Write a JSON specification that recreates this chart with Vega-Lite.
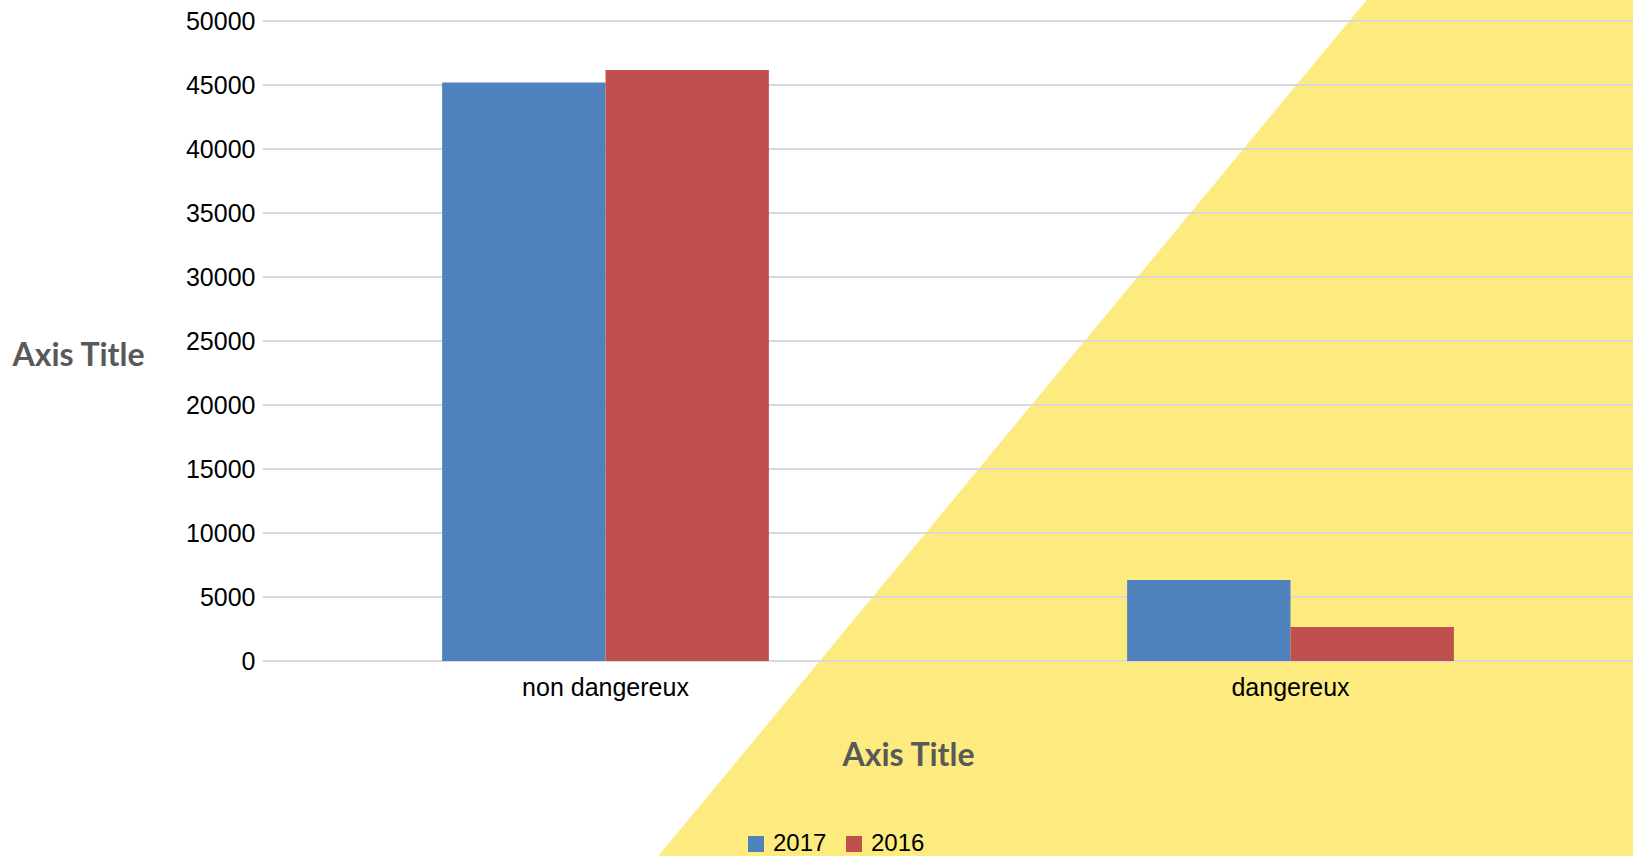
{
  "$schema": "https://vega.github.io/schema/vega-lite/v6.json",
  "width": 1370,
  "height": 640,
  "autosize": {"type": "none"},
  "padding": {"left": 263, "top": 21, "right": 0, "bottom": 195},
  "background": "white",
  "config": {"view": {"stroke": null}, "font": "Liberation Sans"},
  "datasets": {
    "waste": [
      {"categorie": "non dangereux", "annee": "2017", "tonnes": 45200},
      {"categorie": "non dangereux", "annee": "2016", "tonnes": 46180},
      {"categorie": "dangereux", "annee": "2017", "tonnes": 6320},
      {"categorie": "dangereux", "annee": "2016", "tonnes": 2650}
    ],
    "band": [
      {"bx": 25.17, "by": -20000, "by2": -20000},
      {"bx": 83.16, "by": 55000, "by2": -20000},
      {"bx": 120, "by": 55000, "by2": -20000}
    ],
    "grid": [
      {"tonnes": 0}, {"tonnes": 5000}, {"tonnes": 10000}, {"tonnes": 15000},
      {"tonnes": 20000}, {"tonnes": 25000}, {"tonnes": 30000}, {"tonnes": 35000},
      {"tonnes": 40000}, {"tonnes": 45000}, {"tonnes": 50000}
    ]
  },
  "layer": [
    {
      "data": {"name": "band"},
      "mark": {"type": "area", "color": "#FDEB80", "clip": false},
      "encoding": {
        "x": {"field": "bx", "type": "quantitative", "scale": {"domain": [0, 100], "nice": false, "zero": false}, "axis": null},
        "y": {"field": "by", "type": "quantitative", "title": "Axis Title", "scale": {"domain": [0, 50000], "nice": false}},
        "y2": {"field": "by2"}
      }
    },
    {
      "data": {"name": "grid"},
      "mark": {"type": "rule", "color": "#D9D9D9", "strokeWidth": 2},
      "encoding": {
        "y": {"field": "tonnes", "type": "quantitative", "title": "Axis Title", "scale": {"domain": [0, 50000], "nice": false}}
      }
    },
    {
      "data": {"name": "waste"},
      "mark": {"type": "bar"},
      "encoding": {
        "x": {
          "field": "categorie", "type": "nominal", "sort": ["non dangereux", "dangereux"],
          "title": "Axis Title",
          "scale": {"paddingInner": 0.523, "paddingOuter": 0.2615},
          "axis": {
            "domain": false, "ticks": false, "zindex": 1, "labelAngle": 0,
            "labelFont": "Liberation Sans", "labelFontSize": 25, "labelColor": "#000000",
            "labelBaseline": "alphabetic", "labelPadding": 34,
            "titleX": 645, "titleY": 104, "titleBaseline": "alphabetic", "titleAlign": "center",
            "titleFont": "Lato", "titleFontSize": 32, "titleFontWeight": "bold", "titleColor": "#595959"
          }
        },
        "xOffset": {"field": "annee", "type": "nominal", "sort": ["2017", "2016"], "scale": {"paddingInner": 0, "paddingOuter": 0}},
        "y": {
          "field": "tonnes", "type": "quantitative", "title": "Axis Title",
          "scale": {"domain": [0, 50000], "nice": false},
          "axis": {
            "values": [0, 5000, 10000, 15000, 20000, 25000, 30000, 35000, 40000, 45000, 50000],
            "format": "d", "grid": false, "domain": false, "ticks": false, "zindex": 1,
            "labelFont": "Liberation Sans", "labelFontSize": 25, "labelColor": "#000000", "labelPadding": 8,
            "titleAngle": 0, "titleX": -185, "titleY": 344, "titleAlign": "center", "titleBaseline": "alphabetic",
            "titleFont": "Lato", "titleFontSize": 32, "titleFontWeight": "bold", "titleColor": "#595959"
          }
        },
        "color": {
          "field": "annee", "type": "nominal",
          "scale": {"domain": ["2017", "2016"], "range": ["#4F81BD", "#C0504D"]},
          "legend": {
            "orient": "none", "legendX": 481, "legendY": 811, "direction": "horizontal", "title": null,
            "symbolType": "square", "symbolSize": 256, "symbolStrokeWidth": 0,
            "labelFont": "Liberation Sans", "labelFontSize": 24, "labelColor": "#000000",
            "labelOffset": 5, "columnPadding": 15, "padding": 0
          }
        }
      }
    }
  ],
  "resolve": {"scale": {"x": "independent"}, "axis": {"x": "independent"}}
}
